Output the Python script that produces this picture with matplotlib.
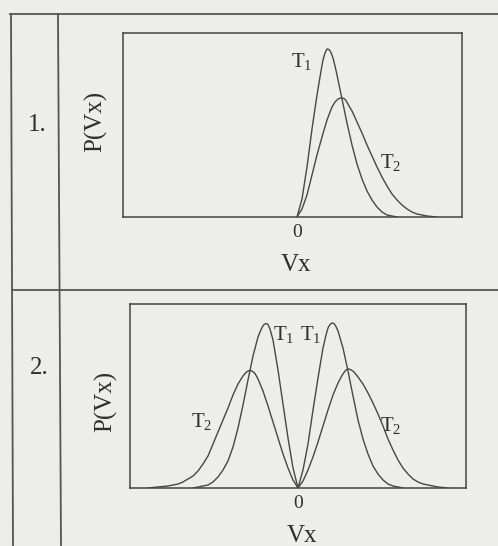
import matplotlib
matplotlib.use('Agg')
import matplotlib.pyplot as plt
from matplotlib.lines import Line2D

plt.rcParams['font.family'] = ['Liberation Serif', 'DejaVu Serif']
plt.rcParams['mathtext.fontset'] = 'custom'
plt.rcParams['mathtext.rm'] = 'Liberation Serif'

W, H = 498, 546
paper = '#ededeb'
ink = '#474747'
txt = '#2e2e2e'

#==============================================================================
# Data (vx: arbitrary units, 0 at the tick; P: arbitrary)
#==============================================================================
# Panel 1: one-sided distribution
vx1_t1 = [0, 5, 10, 15, 20, 24, 26, 28, 30, 32, 34, 36, 38, 40, 45, 50, 55, 60, 65, 70,
          75, 80, 85, 90, 95, 100]
p1_t1 = [0, 18, 50, 88, 122, 146, 157, 164, 168, 167.5, 164.5, 159, 151, 142, 118, 94, 72,
         53, 38, 26, 17, 10, 5, 2, 1, 0]

vx1_t2 = [0, 5, 10, 15, 20, 25, 30, 35, 38, 41, 43, 45, 47, 49, 52, 55, 60, 65, 70, 75, 80,
          85, 90, 95, 100, 105, 110, 115, 120, 125, 130, 140]
p1_t2 = [0, 8, 22, 42, 62, 80, 97, 110, 115, 118, 118.8, 119, 118.5, 116.5, 111, 106, 95,
         84, 72, 61, 50, 40, 31, 23, 17, 12, 8, 5, 3, 2, 1, 0]

# Panel 2: symmetric, two-peaked distribution
vx2_t1 = [-105, -100, -95, -90, -85, -80, -75, -70, -65, -60, -55, -50, -45, -40, -38, -36,
          -34, -32, -30, -28, -25, -20, -15, -10, -5, 0, 5, 10, 15, 20, 25, 28, 30, 32, 34,
          36, 38, 40, 45, 50, 55, 60, 65, 70, 75, 80, 85, 90, 95, 100, 105]
p2_t1 = [0, 1, 2, 3, 6, 11, 18, 27, 41, 60, 83, 108, 132, 151, 156, 160.5,
         163.5, 164.5, 163.5, 159, 148, 118, 84, 50, 20, 0, 18, 44, 78, 110, 140, 153, 160,
         163.5, 165, 164.5, 161.5, 157, 140, 117, 92, 68, 49, 34, 22, 14, 8, 4, 2, 1, 0]

vx2_t2 = [-150, -145, -140, -135, -130, -125, -120, -115, -110, -105, -100, -95, -90, -85,
          -80, -75, -70, -65, -60, -55, -52, -50, -48, -46, -43, -40, -35, -30, -25, -20, -15,
          -10, -5, 0, 5, 10, 15, 20, 25, 30, 35, 40, 44, 47, 49, 51, 53, 56, 60, 65, 70, 75,
          80, 85, 90, 95, 100, 105, 110, 115, 120, 125, 130, 135, 140, 145, 150]
p2_t2 = [0, 0.5, 1, 1.5, 2, 3, 4, 6, 9, 12, 17, 24, 32, 44,
         56, 68, 80, 93, 104, 112, 115.5, 117, 117.5, 117, 114.5, 109, 97, 82, 66, 50, 34,
         20, 8, 0, 7, 18, 31, 46, 62, 78, 93, 105, 112.5, 117, 118.8, 119, 118.2, 116, 111,
         104, 95, 85, 74, 62, 49, 38, 28, 20, 14, 9, 6, 4, 3, 2, 1, 0.5, 0]

row_labels = ['1.', '2.']
curve_labels = ['T$_1$', 'T$_2$']


#==============================================================================
# helpers: pixel positions -> figure fractions
def fx(px):
    return px / W
def fy(py):
    return 1 - py / H
#==============================================================================

fig = plt.figure(figsize=(W / 100, H / 100), dpi=100, facecolor=paper)

# table rules
for (x0, y0, x1, y1) in [(10, 14, 498, 14), (11, 14, 13, 546), (58, 14, 61, 546),
                         (12, 290, 498, 290)]:
    fig.add_artist(Line2D([fx(x0), fx(x1)], [fy(y0), fy(y1)], color='#555555', lw=1.3))

ax1 = fig.add_axes([fx(123), fy(217), fx(462) - fx(123), fy(33) - fy(217)])
ax2 = fig.add_axes([fx(130), fy(488), fx(466) - fx(130), fy(304) - fy(488)])

ax1.plot(vx1_t1, p1_t1, color=ink, lw=1.0)
ax1.plot(vx1_t2, p1_t2, color=ink, lw=1.0)
ax1.set_xlim(-174, 165)

ax2.plot(vx2_t1, p2_t1, color=ink, lw=1.0)
ax2.plot(vx2_t2, p2_t2, color=ink, lw=1.0)
ax2.set_xlim(-168, 168)

for ax in [ax1, ax2]:
    ax.set_facecolor(paper)
    ax.set_ylim(0, 184)
    ax.set_xticks([0])
    ax.set_xticklabels(['0'])
    ax.set_yticks([])
    ax.tick_params(axis='x', length=0, pad=5, labelsize=14, labelcolor=txt)
    for s in ax.spines.values():
        s.set_color('#444444')
        s.set_linewidth(1.1)
    ax.set_xlabel('Vx', fontsize=18, color=txt, va='center')
    ax.set_ylabel('P(Vx)', fontsize=18, color=txt, va='center')

ax1.xaxis.set_label_coords(0.51, -0.26)
ax1.yaxis.set_label_coords(-0.080, 0.52)
ax2.xaxis.set_label_coords(0.512, -0.261)
ax2.yaxis.set_label_coords(-0.071, 0.473)

# curve labels
tkw = dict(fontsize=15, color=txt, ha='center', va='center')
ax1.text(5, 155, curve_labels[0], **tkw)
ax1.text(94, 54, curve_labels[1], **tkw)
ax2.text(-14, 153, curve_labels[0], **tkw)
ax2.text(13, 153, curve_labels[0], **tkw)
ax2.text(-96, 66, curve_labels[1], **tkw)
ax2.text(93, 62, curve_labels[1], **tkw)

# row numbers
fig.text(fx(37), fy(125), row_labels[0], fontsize=18, color=txt, ha='center', va='center')
fig.text(fx(39), fy(368), row_labels[1], fontsize=18, color=txt, ha='center', va='center')

fig.savefig('out.png', dpi=100, facecolor=paper)
